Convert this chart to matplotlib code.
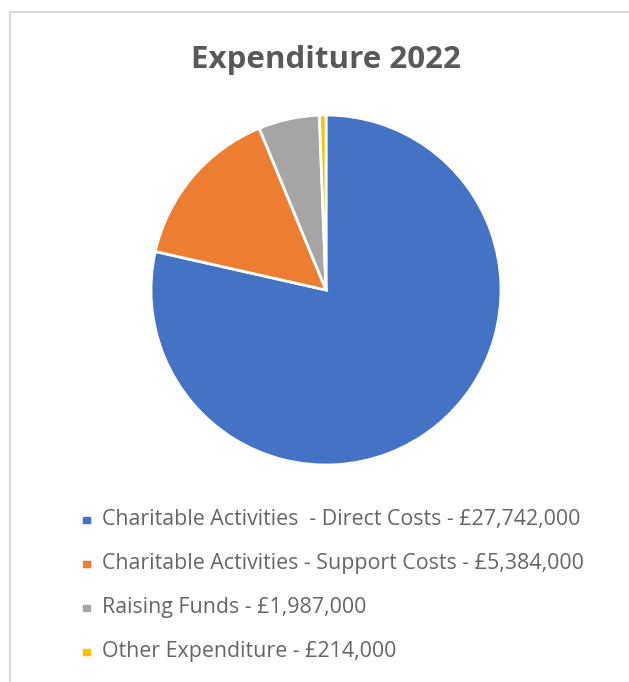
import matplotlib
matplotlib.use("Agg")
import matplotlib.pyplot as plt
from matplotlib.patches import Rectangle

labels = ["Charitable Activities  - Direct Costs - £27,742,000",
          "Charitable Activities - Support Costs - £5,384,000",
          "Raising Funds - £1,987,000",
          "Other Expenditure - £214,000"]
values = [27742000, 5384000, 1987000, 214000]
colors = ["#4472C4", "#ED7D31", "#A5A5A5", "#FFC000"]

W, H = 629, 682
fig = plt.figure(figsize=(W / 100, H / 100), dpi=100)

# outer chart border (left/top visible)
fig.patches.append(Rectangle((10 / W, -0.1), 1.2, (H - 12) / H + 0.1,
                             transform=fig.transFigure, fill=False,
                             edgecolor="#D0D0D0", linewidth=1.2))

fig.text(326 / W, 1 - 60 / H, "Expenditure 2022", ha="center", va="center",
         fontsize=22.5, fontweight="bold", color="#595959", family="Open Sans")

cx, cy, r = 326, 290, 175
ax = fig.add_axes([(cx - r) / W, 1 - (cy + r) / H, 2 * r / W, 2 * r / H])
ax.pie(values, colors=colors, startangle=90, counterclock=False,
       wedgeprops=dict(edgecolor="white", linewidth=2))
ax.set_xlim(-1, 1)
ax.set_ylim(-1, 1)
ax.set_aspect("equal")
ax.axis("off")

y0, dy = 520, 44
for i, (lab, col) in enumerate(zip(labels, colors)):
    y = 1 - (y0 + i * dy) / H
    fig.patches.append(Rectangle((83 / W, y - 3 / H), 7 / W, 6 / H,
                                 transform=fig.transFigure, color=col))
    fig.text(102 / W, y, lab, ha="left", va="center", fontsize=15.4,
             color="#656565", family="Open Sans")

fig.savefig("out.png", dpi=100)
